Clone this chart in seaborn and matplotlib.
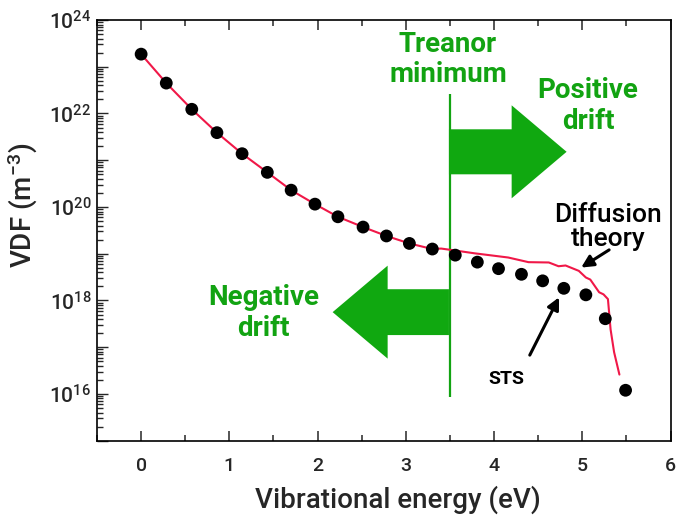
import numpy as np
import pandas as pd
import matplotlib
matplotlib.use("Agg")
import matplotlib.pyplot as plt
import matplotlib.ticker as mticker
from matplotlib.patches import FancyArrow
import seaborn as sns

# ---- data ----
sts_energy = [0.0, 0.285, 0.574, 0.859, 1.144, 1.43, 1.70, 1.97, 2.23, 2.515, 2.78,
              3.04, 3.30, 3.56, 3.81, 4.05, 4.31, 4.55, 4.79, 5.04, 5.26, 5.49]
sts_vdf = [1.86e23, 4.47e22, 1.23e22, 3.89e21, 1.38e21, 5.50e20, 2.29e20, 1.15e20,
           6.17e19, 3.72e19, 2.40e19, 1.66e19, 1.26e19, 9.33e18, 6.61e18, 4.79e18,
           3.63e18, 2.63e18, 1.82e18, 1.32e18, 4.07e17, 1.20e16]

diff_energy = [0.0, 0.285, 0.574, 0.859, 1.144, 1.43, 1.70, 1.97, 2.23, 2.515, 2.78,
               3.04, 3.30, 3.40, 3.52, 3.78, 4.16, 4.39, 4.62, 4.73, 4.81, 4.96,
               5.04, 5.09, 5.19, 5.24, 5.29, 5.32, 5.36, 5.42]
diff_vdf = [1.86e23, 4.47e22, 1.23e22, 3.89e21, 1.38e21, 5.50e20, 2.29e20, 1.15e20,
            6.17e19, 3.72e19, 2.40e19, 1.66e19, 1.26e19, 1.29e19, 1.20e19, 1.02e19,
            8.3e18, 6.6e18, 6.5e18, 5.4e18, 5.6e18, 4.3e18, 3.1e18, 2.8e18, 1.5e18,
            1.35e18, 1.07e18, 2.4e17, 7.8e16, 2.6e16]

treanor_x = 3.5
treanor_span = [8.5e15, 2.6e22]

x_ticks = [0, 1, 2, 3, 4, 5, 6]
y_major = [1e15, 1e16, 1e17, 1e18, 1e19, 1e20, 1e21, 1e22, 1e23, 1e24]
y_labelled = [16, 18, 20, 22, 24]

GREEN = "#12a312"
ARROW_GREEN = "#10a810"
RED = "#f01848"

sns.set_theme(style="ticks")
plt.rcParams['font.family'] = ['Roboto', 'DejaVu Sans']
plt.rcParams['mathtext.fontset'] = 'custom'
plt.rcParams['mathtext.rm'] = 'Roboto:medium'
plt.rcParams['mathtext.it'] = 'Roboto:italic'
plt.rcParams['mathtext.bf'] = 'Roboto:bold'

fig = plt.figure(figsize=(6.76, 5.18), dpi=100)
ax = fig.add_axes([0.1435, 0.1492, 0.992 - 0.1435, 0.9614 - 0.1492])

df_line = pd.DataFrame({"E": diff_energy, "VDF": diff_vdf})
df_pts = pd.DataFrame({"E": sts_energy, "VDF": sts_vdf})

sns.lineplot(data=df_line, x="E", y="VDF", ax=ax, color=RED, lw=1.5, sort=False, zorder=2)
sns.scatterplot(data=df_pts, x="E", y="VDF", ax=ax, color="black", s=85,
                edgecolor="none", zorder=3)

ax.set_yscale("log")
ax.set_xlim(-0.5, 6)
ax.set_ylim(1e15, 1e24)

ax.vlines(treanor_x, treanor_span[0], treanor_span[1], color=GREEN, lw=1.6, zorder=1)

# big green arrows (axes fraction coords)
ax.add_patch(FancyArrow(0.6136, 0.6867, 0.8187 - 0.6136, 0, width=0.107,
                        head_width=0.221, head_length=0.8187 - 0.7229,
                        length_includes_head=True, transform=ax.transAxes,
                        color=ARROW_GREEN, lw=0, zorder=1))
ax.add_patch(FancyArrow(0.6136, 0.3056, 0.4108 - 0.6136, 0, width=0.109,
                        head_width=0.221, head_length=0.5067 - 0.4108,
                        length_includes_head=True, transform=ax.transAxes,
                        color=ARROW_GREEN, lw=0, zorder=1))

# texts
ax.text(0.6118, 0.906, "Treanor\nminimum", transform=ax.transAxes, ha="center",
        va="center", color=GREEN, fontsize=20, fontweight="bold", linespacing=1.15)
ax.text(0.8559, 0.7956, "Positive\ndrift", transform=ax.transAxes, ha="center",
        va="center", color=GREEN, fontsize=20, fontweight="bold", linespacing=1.15)
ax.text(0.2902, 0.3035, "Negative\ndrift", transform=ax.transAxes, ha="center",
        va="center", color=GREEN, fontsize=20, fontweight="bold", linespacing=1.15)
ax.text(0.8907, 0.508, "Diffusion\ntheory", transform=ax.transAxes, ha="center",
        va="center", color="black", fontsize=19, fontweight="medium", linespacing=1.0)
ax.text(0.714, 0.1467, "STS", transform=ax.transAxes, ha="center",
        va="center", color="black", fontsize=14, fontweight="bold")

# annotation arrows
ax.annotate("", xy=(4.96, 4.7e18), xytext=(5.33, 1.3e19),
            arrowprops=dict(arrowstyle="-|>,head_length=0.6,head_width=0.3",
                            color="black", lw=2.2))
ax.annotate("", xy=(4.75, 1.32e18), xytext=(4.39, 6.0e16),
            arrowprops=dict(arrowstyle="-|>,head_length=0.6,head_width=0.3",
                            color="black", lw=2.2))

# ticks
ax.xaxis.set_major_locator(mticker.FixedLocator(x_ticks))
ax.xaxis.set_minor_locator(mticker.MultipleLocator(0.5))
ax.yaxis.set_major_locator(mticker.FixedLocator(y_major))
ax.yaxis.set_minor_locator(mticker.LogLocator(base=10, subs=np.arange(2, 10), numticks=30))


def yfmt(v, pos):
    e = int(round(np.log10(v)))
    return r"$10^{%d}$" % e if e in y_labelled else ""


ax.yaxis.set_major_formatter(mticker.FuncFormatter(yfmt))
ax.yaxis.set_minor_formatter(mticker.NullFormatter())

ax.tick_params(axis="x", which="both", direction="in", top=True, bottom=True,
               labelsize=14, pad=12, width=1.1)
ax.tick_params(axis="x", which="major", length=7)
ax.tick_params(axis="x", which="minor", length=4)
ax.tick_params(axis="y", which="both", direction="in", left=True, right=False,
               labelsize=15, pad=4, width=1.0)
ax.tick_params(axis="y", which="major", length=8)
ax.tick_params(axis="y", which="minor", length=4)
for lbl in ax.get_xticklabels():
    lbl.set_fontweight("medium")

for sp in ax.spines.values():
    sp.set_visible(True)
    sp.set_linewidth(1.2)
    sp.set_color("black")

ax.set_xlabel("Vibrational energy (eV)", fontsize=20, fontweight="medium")
ax.set_ylabel("VDF (m$^{-3}$)", fontsize=20, fontweight="medium")
ax.xaxis.set_label_coords(0.5247, -0.107)
ax.yaxis.set_label_coords(-0.1, 0.56)

fig.savefig("out.png", dpi=100)
